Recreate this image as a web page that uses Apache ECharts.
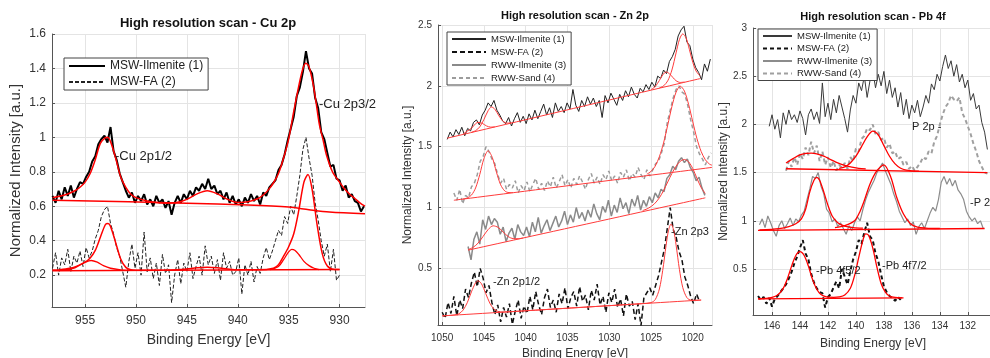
<!DOCTYPE html>
<html>
<head>
<meta charset="utf-8">
<script src="https://cdn.jsdelivr.net/npm/echarts@6/dist/echarts.min.js"></script>
<style>
html,body{margin:0;padding:0;background:#fff}
#chart{width:990px;height:358px}
</style>
</head>
<body>
<div id="chart"></div>
<script>
// ---------- Cu 2p (scan start energy, step 0.3 eV downwards) ----------
let cuIlmE0 = 958.2
let cuIlmVals = [
    0.66,0.62,0.69,0.64,0.71,0.66,0.72,0.65,0.70,0.74,
    0.73,0.77,0.80,0.86,0.89,0.96,0.99,1.01,0.97,1.06,
    0.92,0.87,0.79,0.74,0.69,0.65,0.68,0.62,0.66,0.63,
    0.67,0.61,0.64,0.60,0.66,0.62,0.64,0.59,0.63,0.55,
    0.62,0.66,0.62,0.67,0.64,0.69,0.66,0.71,0.69,0.73,
    0.70,0.76,0.70,0.72,0.67,0.69,0.64,0.68,0.62,0.66,
    0.61,0.64,0.60,0.65,0.62,0.67,0.63,0.66,0.61,0.68,
    0.66,0.71,0.73,0.75,0.81,0.84,0.90,0.98,1.05,1.12,
    1.24,1.29,1.38,1.50,1.40,1.37,1.23,1.17,1.03,0.99,
    0.91,0.83,0.84,0.76,0.75,0.69,0.72,0.65,0.67,0.63,
    0.62,0.57,0.60
]
let cuFaE0 = 958.2
let cuFaVals = [
    0.24,0.33,0.20,0.30,0.26,0.35,0.22,0.31,0.27,0.34,
    0.25,0.36,0.30,0.34,0.41,0.46,0.54,0.58,0.60,0.50,
    0.44,0.36,0.31,0.22,0.13,0.28,0.38,0.24,0.33,0.20,
    0.45,0.22,0.30,0.18,0.27,0.14,0.32,0.21,0.26,0.04,
    0.20,0.29,0.15,0.27,0.22,0.33,0.18,0.25,0.31,0.20,
    0.37,0.26,0.31,0.21,0.29,0.17,0.33,0.24,0.28,0.20,
    0.22,0.30,0.09,0.26,0.20,0.28,0.16,0.25,0.21,0.30,
    0.36,0.29,0.34,0.40,0.46,0.43,0.54,0.50,0.60,0.55,
    0.66,0.78,0.93,1.00,0.88,0.78,0.62,0.52,0.40,0.31,
    0.38,0.22,0.35,0.17,0.20
]
// fitted curves [eV, intensity]
let cuIlmEnv = [[958.2,0.65],[957,0.665],[956,0.69],[955.5,0.71],[955,0.74],[954.5,0.79],[954,0.87],[953.5,0.965],[953,0.998],[952.8,1.0],[952.5,0.975],[952,0.88],[951.5,0.77],[951,0.71],[950.5,0.67],[950,0.65],[949,0.632],[948,0.622],[947,0.618],[946,0.622],[945,0.64],[944,0.672],[943,0.69],[942,0.672],[941,0.64],[940,0.622],[939,0.626],[938,0.645],[937.5,0.665],[937,0.695],[936.5,0.735],[936,0.79],[935.5,0.88],[935,0.99],[934.5,1.15],[934,1.3],[933.6,1.4],[933.3,1.43],[933,1.41],[932.6,1.31],[932.3,1.2],[932,1.08],[931.6,0.98],[931.3,0.9],[930.7,0.8],[930,0.74],[929.5,0.7],[929,0.67],[928.5,0.645],[928,0.62],[927.5,0.6]]
let cuIlmBase = [[958.2,0.635],[945,0.618],[939,0.607],[935,0.595],[933,0.58],[931,0.567],[927.5,0.556]]
let cuFaBase = [[958.2,0.226],[930,0.232]]
let cuFaEnv = [[958.2,0.23],[957,0.231],[956,0.243],[955.5,0.26],[955,0.275],[954.5,0.3],[954,0.344],[953.5,0.42],[953,0.494],[952.75,0.5],[952.5,0.483],[952,0.39],[951.5,0.294],[951,0.245],[950.5,0.231],[950,0.229],[947,0.229],[946,0.231],[945,0.236],[944,0.243],[943,0.246],[942,0.243],[941,0.236],[940,0.231],[938,0.231],[936.5,0.24],[936,0.26],[935.5,0.31],[935,0.365],[934.5,0.44],[934,0.577],[933.5,0.74],[933.1,0.785],[932.7,0.70],[932.2,0.49],[931.7,0.325],[931.2,0.253],[930.5,0.233],[930,0.232]]
let cuFaShoulder = [[936.8,0.232],[936,0.25],[935.5,0.29],[935,0.335],[934.7,0.35],[934.4,0.345],[934,0.32],[933.5,0.28],[933,0.255],[932.5,0.24],[932,0.232]]
let cuFaSmall = [[957.5,0.232],[956.5,0.24],[955.5,0.26],[955,0.275],[954.4,0.285],[953.8,0.275],[953.2,0.255],[952.5,0.24],[951.5,0.231],[950.5,0.228]]

// ---------- Zn 2p (step 0.35 eV) ----------
let znIlmE0 = 1049.4
let znIlmVals = [
    1.56,1.62,1.58,1.64,1.60,1.66,1.59,1.65,1.63,1.70,
    1.72,1.68,1.76,1.80,1.86,1.83,1.88,1.80,1.76,1.71,
    1.69,1.74,1.67,1.73,1.78,1.70,1.75,1.69,1.77,1.72,
    1.80,1.73,1.79,1.85,1.76,1.82,1.74,1.86,1.79,1.83,
    1.78,1.86,1.81,1.97,1.84,1.79,1.88,1.83,1.91,1.85,
    1.90,1.83,1.88,1.74,1.92,1.86,1.94,1.89,1.84,1.93,
    1.88,1.96,1.91,1.99,1.93,1.90,1.98,1.95,2.01,1.97,
    2.03,1.99,2.08,2.06,2.13,2.10,2.20,2.24,2.30,2.41,
    2.46,2.49,2.36,2.33,2.22,2.15,2.11,2.05,2.18,2.12,
    2.22
]
let znSandE0 = 1048.6
let znSandVals = [
    1.12,1.06,1.15,1.03,1.10,1.08,1.17,1.20,1.27,1.38,
    1.42,1.50,1.46,1.40,1.36,1.27,1.20,1.24,1.15,1.19,
    1.16,1.22,1.12,1.18,1.14,1.21,1.13,1.19,1.24,1.15,
    1.20,1.14,1.22,1.17,1.25,1.16,1.21,1.27,1.18,1.23,
    1.16,1.24,1.19,1.26,1.21,1.15,1.23,1.28,1.20,1.25,
    1.19,1.27,1.23,1.30,1.22,1.26,1.20,1.29,1.25,1.31,
    1.22,1.28,1.25,1.33,1.27,1.23,1.31,1.26,1.31,1.36,
    1.38,1.45,1.53,1.70,1.80,1.90,1.97,2.00,1.95,1.93,
    1.84,1.72,1.62,1.50,1.44,1.40,1.35,1.41,1.45
]
let znRiE0 = 1046.9
let znRiVals = [
    0.68,0.57,0.74,0.80,0.70,0.90,0.82,0.93,0.86,0.91,
    0.88,0.78,0.84,0.72,0.79,0.83,0.74,0.86,0.80,0.77,
    0.84,0.76,0.88,0.80,0.92,0.79,0.85,0.90,0.81,0.87,
    0.93,0.84,0.89,0.97,0.86,0.94,0.88,1.00,0.91,0.96,
    0.89,0.98,0.92,1.03,0.95,0.90,1.01,0.96,1.06,0.93,
    1.02,0.96,1.08,0.99,1.04,0.95,1.07,1.01,1.10,0.98,
    1.06,1.01,1.09,1.04,1.12,1.08,1.15,1.13,1.24,1.27,
    1.34,1.31,1.38,1.41,1.37,1.40,1.33,1.29,1.22,1.25,
    1.16,1.10
]
let znFaE0 = 1050.0
let znFaVals = [
    0.14,0.09,0.22,0.13,0.27,0.11,0.24,0.17,0.33,0.26,
    0.38,0.47,0.35,0.50,0.42,0.30,0.36,0.22,0.12,0.20,
    0.06,0.18,0.10,0.21,0.04,0.15,0.24,0.09,0.19,0.13,
    0.27,0.16,0.31,0.20,0.12,0.26,0.33,0.18,0.24,0.14,
    0.29,0.21,0.34,0.17,0.26,0.31,0.19,0.35,0.23,0.28,
    0.16,0.32,0.24,0.37,0.20,0.27,0.14,0.30,0.22,0.33,
    0.18,0.25,0.11,0.29,0.19,0.23,0.08,0.21,0.03,0.26,
    0.30,0.34,0.28,0.36,0.44,0.55,0.66,0.83,1.00,0.82,
    0.76,0.64,0.57,0.43,0.36,0.27,0.21,0.29,0.23
]
let znIlmBase = [[1049.4,1.57],[1019.1,2.06]]
let znIlmA = [[1047.5,1.603],[1047,1.628],[1046.5,1.651],[1046,1.689],[1045.7,1.70],[1045.2,1.692],[1044.7,1.671],[1044.2,1.661],[1043.7,1.663]]
let znIlmB = [[1046.5,1.618],[1046,1.632],[1045.5,1.663],[1045,1.724],[1044.5,1.796],[1044.1,1.826],[1043.7,1.809],[1043.2,1.753],[1042.7,1.708],[1042.2,1.694],[1041.7,1.696]]
let znIlmC = [[1025,1.969],[1024.5,1.994],[1024,2.044],[1023.6,2.09],[1023.2,2.114],[1022.8,2.10],[1022.4,2.07],[1022,2.042],[1021.5,2.028],[1021,2.031]]
let znIlmD = [[1024,1.983],[1023.5,2.0],[1023,2.041],[1022.5,2.13],[1022,2.271],[1021.6,2.38],[1021.2,2.427],[1020.8,2.393],[1020.4,2.297],[1020,2.193],[1019.6,2.121],[1019.1,2.08]]
let znSandBase = [[1048.6,1.06],[1017.7,1.33]]
let znSandA = [[1047.5,1.07],[1047,1.079],[1046.5,1.102],[1046,1.161],[1045.5,1.272],[1045,1.403],[1044.5,1.466],[1044,1.411],[1043.5,1.29],[1043,1.187],[1042.5,1.136],[1042,1.123],[1041.5,1.123]]
let znSandB = [[1025.5,1.274],[1025,1.297],[1024.5,1.34],[1024,1.418],[1023.5,1.531],[1023,1.678],[1022.5,1.83],[1022,1.948],[1021.5,1.997],[1021,1.957],[1020.5,1.847],[1020,1.704],[1019.5,1.566],[1019,1.461],[1018.5,1.393],[1018,1.357],[1017.7,1.348]]
let znRiBase = [[1046.9,0.65],[1018.5,1.08]]
let znRiA = [[1046.9,0.654],[1046.3,0.673],[1045.7,0.708],[1045.1,0.763],[1044.5,0.819],[1043.9,0.85],[1043.3,0.837],[1042.7,0.799],[1042.1,0.762],[1041.5,0.745],[1040.9,0.744],[1040.3,0.75]]
let znRiB = [[1026,0.975],[1025.3,0.995],[1024.6,1.03],[1024,1.08],[1023.5,1.14],[1023,1.21],[1022.5,1.28],[1022,1.34],[1021.5,1.38],[1021,1.395],[1020.5,1.375],[1020,1.32],[1019.5,1.24],[1019,1.165],[1018.5,1.115]]
let znFaBase = [[1050,0.11],[1019,0.24]]
let znFaEnv = [[1050,0.11],[1049,0.114],[1048.5,0.118],[1048,0.127],[1047.5,0.157],[1047,0.218],[1046.5,0.307],[1046,0.382],[1045.7,0.398],[1045.3,0.374],[1044.8,0.296],[1044.3,0.215],[1043.8,0.165],[1043.3,0.146],[1042.8,0.142],[1040,0.152],[1035,0.173],[1030,0.194],[1026,0.211],[1025,0.219],[1024.5,0.243],[1024,0.331],[1023.6,0.484],[1023.2,0.687],[1022.9,0.814],[1022.6,0.865],[1022.3,0.816],[1022,0.692],[1021.6,0.492],[1021.2,0.343],[1020.7,0.259],[1020.2,0.239],[1019.5,0.238],[1019,0.24]]

// ---------- Pb 4f (step 0.2 eV) ----------
let pbIlmE0 = 146.2
let pbIlmVals = [
    1.98,2.10,1.95,2.05,1.86,2.12,2.00,2.15,2.05,2.10,
    2.02,2.14,2.06,1.89,2.10,2.16,2.05,2.13,2.01,2.43,
    2.08,2.22,2.05,2.26,2.12,2.30,2.18,2.06,1.92,2.15,
    2.30,2.22,2.43,2.35,2.50,2.28,2.45,2.56,2.38,2.52,
    2.40,2.55,2.32,2.46,2.28,2.38,2.18,2.33,2.10,2.26,
    2.06,2.20,2.12,2.25,2.08,2.18,2.30,2.22,2.42,2.36,
    2.52,2.45,2.60,2.72,2.58,2.66,2.50,2.62,2.44,2.52,
    2.38,2.46,2.25,2.32,2.16,2.20,2.02,1.92,1.74
]
let pbSandE0 = 145.0
let pbSandVals = [
    1.52,1.62,1.56,1.66,1.58,1.70,1.64,1.76,1.68,1.82,
    1.70,1.78,1.62,1.72,1.58,1.66,1.55,1.62,1.52,1.58,
    1.55,1.60,1.54,1.66,1.62,1.75,1.72,1.85,1.88,1.96,
    1.94,2.00,1.90,1.92,1.84,1.86,1.76,1.80,1.70,1.72,
    1.64,1.66,1.58,1.61,1.54,1.57,1.52,1.56,1.60,1.66,
    1.64,1.72,1.70,1.82,1.88,2.00,2.10,2.18,2.22,2.30,
    2.26,2.24,2.28,2.12,2.06,1.98,1.90,1.80,1.72,1.62,
    1.56,1.50,1.49
]
let pbRiE0 = 146.9
let pbRiVals = [
    0.96,1.02,0.93,1.05,0.98,0.90,0.84,0.95,1.00,0.92,
    0.97,1.03,0.95,1.02,0.99,1.06,1.10,1.22,1.33,1.46,
    1.44,1.50,1.36,1.28,1.12,1.08,0.99,1.02,0.94,0.98,
    0.92,0.86,0.95,0.90,0.98,1.04,1.00,1.12,1.22,1.30,
    1.36,1.42,1.50,1.55,1.60,1.52,1.45,1.38,1.28,1.20,
    1.10,1.04,0.98,1.02,0.95,0.99,0.86,0.94,0.98,0.92,
    1.00,1.08,1.14,1.10,1.22,1.40,1.46,1.38,1.44,1.36,
    1.42,1.32,1.28,1.22,1.10,1.04,1.00,1.03,0.97,1.00,
    0.92
]
let pbFaE0 = 147.0
let pbFaVals = [
    0.22,0.18,0.21,0.14,0.20,0.11,0.19,0.22,0.26,0.30,
    0.34,0.40,0.47,0.56,0.63,0.72,0.80,0.66,0.60,0.45,
    0.36,0.30,0.26,0.25,0.10,0.21,0.24,0.31,0.37,0.30,
    0.50,0.42,0.34,0.48,0.60,0.68,0.80,0.76,0.88,0.98,
    0.84,0.80,0.66,0.58,0.44,0.32,0.26,0.22,0.20,0.17,
    0.21,0.18
]
let pbSandBase = [[145,1.54],[130.6,1.5]]
let pbSandA = [[145,1.6],[144.5,1.645],[144,1.685],[143.5,1.70],[143.2,1.703],[142.8,1.695],[142.3,1.67],[141.8,1.635],[141.3,1.6],[140.8,1.575],[140.3,1.556],[139.8,1.545],[139.3,1.538]]
let pbSandB = [[141.2,1.545],[140.8,1.56],[140.4,1.6],[140,1.67],[139.6,1.77],[139.2,1.87],[138.8,1.93],[138.4,1.89],[138,1.78],[137.6,1.67],[137.2,1.59],[136.8,1.545],[136.4,1.525],[136,1.518],[135.5,1.515]]
let pbRiBase = [[147,0.9],[130.8,0.92]]
let pbRiA = [[146.9,0.905],[145.5,0.92],[144.8,0.94],[144.3,0.97],[143.9,1.02],[143.6,1.12],[143.3,1.3],[143.0,1.42],[142.8,1.45],[142.6,1.42],[142.3,1.3],[142.0,1.16],[141.7,1.05],[141.3,0.98],[140.8,0.945],[140.2,0.93],[139.5,0.925]]
let pbRiB = [[141.5,0.93],[140.8,0.95],[140.1,1.0],[139.7,1.1],[139.4,1.21],[139,1.38],[138.5,1.52],[138.0,1.58],[137.5,1.45],[137.1,1.25],[136.6,1.07],[136.1,0.97],[135.6,0.935],[135,0.925],[134,0.92]]
let pbFaBase = [[147,0.19],[136.6,0.2]]
let pbFaEnv = [[147,0.19],[146.5,0.195],[146,0.205],[145.6,0.23],[145.2,0.3],[144.9,0.4],[144.6,0.53],[144.3,0.64],[144.0,0.68],[143.7,0.64],[143.4,0.53],[143.1,0.39],[142.8,0.29],[142.5,0.235],[142.1,0.21],[141.6,0.205],[141.2,0.21],[140.8,0.23],[140.4,0.3],[140.1,0.43],[139.8,0.62],[139.5,0.8],[139.3,0.865],[139.1,0.85],[138.8,0.72],[138.5,0.52],[138.2,0.35],[137.9,0.26],[137.6,0.22],[137.2,0.205],[136.7,0.2]]

// ---------------- chart ----------------
const font = 'Liberation Sans, Arial, Helvetica, sans-serif'

// scan points are evenly spaced in energy, going down from e0
function scan(e0, step, vals){
    return vals.map((v, i) => [+(e0 - i * step).toFixed(2), v])
}

function line(name, data, gi, color, width, dash, smooth){
    return {
        name: name,
        type: 'line',
        xAxisIndex: gi,
        yAxisIndex: gi,
        data: data,
        symbol: 'none',
        showSymbol: false,
        smooth: smooth || false,
        silent: true,
        lineStyle: {color: color, width: width, type: dash || 'solid'},
        itemStyle: {color: color},
        z: smooth ? 3 : 2
    }
}

function fit(data, gi, color, width){
    return line('', data, gi, color, width, 'solid', 0.3)
}

function xAx(gi, min, max, step, fs, gap, margin){
    return {
        type: 'value', gridIndex: gi, inverse: true, min: min, max: max,
        minInterval: step, maxInterval: step,
        name: 'Binding Energy [eV]', nameLocation: 'middle', nameGap: gap,
        nameTextStyle: {fontSize: fs + 2, color: '#333', fontFamily: font},
        axisLine: {onZero: false, lineStyle: {color: '#555'}},
        axisTick: {inside: true, length: 3, lineStyle: {color: '#555'}},
        axisLabel: {showMinLabel: false, showMaxLabel: false, fontSize: fs, color: '#333', margin: margin,
            fontFamily: font, formatter: v => String(v)},
        splitLine: {show: true, lineStyle: {color: '#e4e4e4'}}
    }
}

function yAx(gi, min, max, step, fs, nfs, gap){
    return {
        type: 'value', gridIndex: gi, min: min, max: max,
        minInterval: step, maxInterval: step,
        name: 'Normalized Intensity [a.u.]', nameLocation: 'middle', nameGap: gap,
        nameTextStyle: {fontSize: nfs, color: '#333', fontFamily: font},
        axisLine: {show: true, onZero: false, lineStyle: {color: '#555'}},
        axisTick: {show: true, inside: true, length: 3, lineStyle: {color: '#555'}},
        axisLabel: {showMinLabel: false, fontSize: fs, color: '#333', margin: 6, fontFamily: font,
            formatter: v => String(v)},
        splitLine: {show: true, lineStyle: {color: '#e4e4e4'}}
    }
}

function legend(left, top, names, fs, iw, ih, gap){
    return {
        left: left, top: top, orient: 'vertical',
        data: names,
        itemWidth: iw, itemHeight: ih, itemGap: gap,
        padding: [2, 5, 2, 4],
        backgroundColor: '#fff', borderColor: '#444', borderWidth: 1,
        itemStyle: {opacity: 0},
        textStyle: {fontSize: fs, color: '#222', fontFamily: font},
        formatter: n => n.split('#')[0],
        selectedMode: false
    }
}

function note(text, x, y, fs){
    return {type: 'text', left: x, top: y, z: 100,
        style: {text: text, fontSize: fs, fill: '#222', fontFamily: font}}
}

const red = '#ff0000'
const red2 = '#ff3b3b'

let series = [
    // Cu 2p
    line('MSW-Ilmenite (1)#a', scan(cuIlmE0, 0.3, cuIlmVals), 0, '#000', 2),
    line('MSW-FA (2)#a', scan(cuFaE0, 0.3, cuFaVals), 0, '#222', 1, [4, 2]),
    fit(cuIlmBase, 0, red, 1.5),
    fit(cuIlmEnv, 0, red, 1.5),
    fit(cuFaBase, 0, red, 1.5),
    fit(cuFaSmall, 0, red, 1.3),
    fit(cuFaShoulder, 0, red, 1.3),
    fit(cuFaEnv, 0, red, 1.5),
    // Zn 2p
    line('MSW-Ilmenite (1)#b', scan(znIlmE0, 0.35, znIlmVals), 1, '#222', 1),
    line('MSW-FA (2)#b', scan(znFaE0, 0.35, znFaVals), 1, '#111', 1.5, [5, 3]),
    line('RWW-Ilmenite (3)#b', scan(znRiE0, 0.35, znRiVals), 1, '#8a8a8a', 1.5),
    line('RWW-Sand (4)#b', scan(znSandE0, 0.35, znSandVals), 1, '#9c9c9c', 1.5, [4, 3]),
    fit(znIlmBase, 1, red2, 1), fit(znIlmA, 1, red2, 1), fit(znIlmB, 1, red2, 1),
    fit(znIlmC, 1, red2, 1), fit(znIlmD, 1, red2, 1),
    fit(znSandBase, 1, red2, 1), fit(znSandA, 1, red2, 1), fit(znSandB, 1, red2, 1),
    fit(znRiBase, 1, red2, 1), fit(znRiA, 1, red2, 1), fit(znRiB, 1, red2, 1),
    fit(znFaBase, 1, red2, 1), fit(znFaEnv, 1, red2, 1),
    // Pb 4f
    line('MSW-Ilmenite (1)#c', scan(pbIlmE0, 0.2, pbIlmVals), 2, '#3a3a3a', 1),
    line('MSW-FA (2)#c', scan(pbFaE0, 0.2, pbFaVals), 2, '#111', 2, [4, 3]),
    line('RWW-Ilmenite (3)#c', scan(pbRiE0, 0.2, pbRiVals), 2, '#8c8c8c', 1.2),
    line('RWW-Sand (4)#c', scan(pbSandE0, 0.2, pbSandVals), 2, '#a0a0a0', 2, [4, 3]),
    fit(pbSandBase, 2, red, 1.3), fit(pbSandA, 2, red, 1.3), fit(pbSandB, 2, red, 1.3),
    fit(pbRiBase, 2, red, 1.3), fit(pbRiA, 2, red, 1.3), fit(pbRiB, 2, red, 1.3),
    fit(pbFaBase, 2, red, 1.3), fit(pbFaEnv, 2, red, 1.3)
]

let mychart = echarts.init(document.getElementById('chart'), null, {renderer: 'canvas'})
mychart.setOption({
    animation: false,
    backgroundColor: '#fff',
    title: [
        {text: 'High resolution scan - Cu 2p', left: 208, top: 17, textAlign: 'center', padding: 0,
            textStyle: {fontSize: 13, fontWeight: 'bold', color: '#111', fontFamily: font}},
        {text: 'High resolution scan - Zn 2p', left: 575, top: 10, textAlign: 'center', padding: 0,
            textStyle: {fontSize: 11, fontWeight: 'bold', color: '#111', fontFamily: font}},
        {text: 'High resolution scan - Pb 4f', left: 873, top: 11, textAlign: 'center', padding: 0,
            textStyle: {fontSize: 11, fontWeight: 'bold', color: '#111', fontFamily: font}}
    ],
    grid: [
        {left: 52, top: 34, width: 313, height: 273, outerBoundsMode: 'none'},
        {left: 438, top: 25, width: 274, height: 300, outerBoundsMode: 'none'},
        {left: 753, top: 28, width: 240, height: 287, outerBoundsMode: 'none'}
    ],
    xAxis: [
        xAx(0, 927.5, 958.25, 5, 12, 26, 8),
        xAx(1, 1017.7, 1050.5, 5, 10, 22, 8),
        xAx(2, 130.2, 147.36, 2, 10, 23, 6)
    ],
    yAxis: [
        yAx(0, 0.015, 1.6, 0.2, 12, 15, 29),
        yAx(1, 0.035, 2.5, 0.5, 10, 12, 24),
        yAx(2, 0.023, 3, 0.5, 10, 12, 21)
    ],
    legend: [
        legend(64, 58, ['MSW-Ilmenite (1)#a', 'MSW-FA (2)#a'], 12, 36, 13, 4),
        legend(447, 32, ['MSW-Ilmenite (1)#b', 'MSW-FA (2)#b', 'RWW-Ilmenite (3)#b', 'RWW-Sand (4)#b'], 9.5, 34, 11, 3),
        legend(758, 29, ['MSW-Ilmenite (1)#c', 'MSW-FA (2)#c', 'RWW-Ilmenite (3)#c', 'RWW-Sand (4)#c'], 9.5, 29, 11, 2.5)
    ],
    graphic: [
        note('-Cu 2p1/2', 115, 150, 13),
        note('-Cu 2p3/2', 319, 98, 13),
        note('-Zn 2p1/2', 493, 276, 11),
        note('-Zn 2p3', 671, 226, 11),
        note('-Pb 4f5/2', 816, 265, 11),
        note('-Pb 4f7/2', 882, 260, 11),
        note('P 2p -', 912, 121, 11),
        note('-P 2', 970, 197, 11)
    ],
    series: series
})
</script>
</body>
</html>
